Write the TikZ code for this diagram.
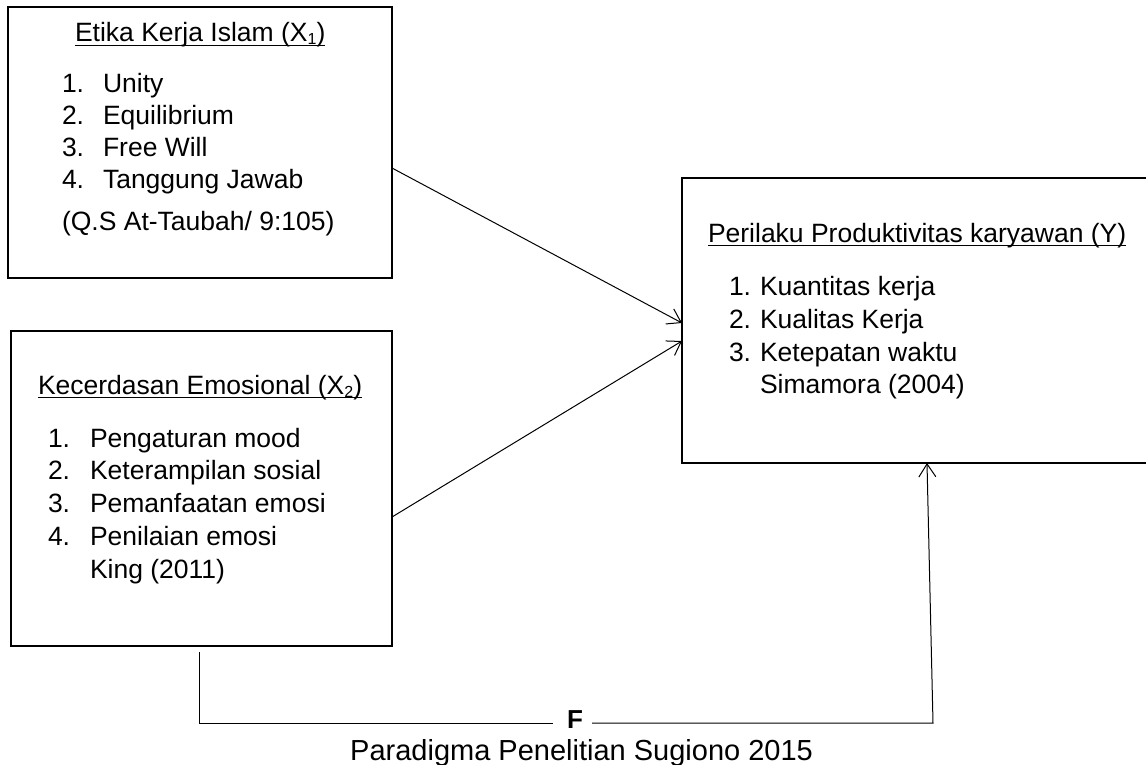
\documentclass[tikz,border=0pt]{standalone}
\usepackage{fontspec}
\setmainfont{Liberation Sans}
\usetikzlibrary{arrows.meta,calc}
\newcommand{\subnum}[1]{\raisebox{-3pt}{\fontsize{16}{16}\selectfont #1}}
\tikzset{
  box/.style={draw, line width=2.3pt, anchor=north west, inner sep=0, outer sep=0},
  txt/.style={inner sep=0, outer sep=0, anchor=base west, font=\fontsize{26.5}{30}\selectfont},
  conn/.style={line width=1pt},
  arr/.style={conn, -{Straight Barb[length=13pt,width=17pt]}},
  ul/.style={line width=1.3pt}
}
\begin{document}
\begin{tikzpicture}[x=1pt,y=-1pt]
\useasboundingbox[fill=white] (0,0) rectangle (1146,765);
% boxes
\node[box, minimum width=384pt, minimum height=271pt] (x1) at (8,7) {};
\node[box, minimum width=381pt, minimum height=315pt] (x2) at (11,331) {};
\node[box, minimum width=470pt, minimum height=285pt] (y) at (682,178) {};
% X1 texts
\node[txt] (x1t) at (75,42) {Etika Kerja Islam (X\subnum{1})};
\draw[ul] ($(x1t.base west)+(0,3.5)$) -- ($(x1t.base east)+(0,3.5)$);
\node[txt] (x1n1) at (62,93) {1.};  \node[txt] (x1i1) at (103,93) {Unity};
\node[txt] (x1n2) at (62,125) {2.}; \node[txt] (x1i2) at (103,125) {Equilibrium};
\node[txt] (x1n3) at (62,157) {3.}; \node[txt] (x1i3) at (103,157) {Free Will};
\node[txt] (x1n4) at (62,188) {4.}; \node[txt] (x1i4) at (103,188) {Tanggung Jawab};
\node[txt] (x1q) at (62,230) {(Q.S At-Taubah/ 9:105)};
% X2 texts
\node[txt] (x2t) at (38,394) {Kecerdasan Emosional (X\subnum{2})};
\draw[ul] ($(x2t.base west)+(0,3.5)$) -- ($(x2t.base east)+(0,3.5)$);
\node[txt] (x2n1) at (48,447) {1.}; \node[txt] (x2i1) at (90,447) {Pengaturan mood};
\node[txt] (x2n2) at (48,479) {2.}; \node[txt] (x2i2) at (90,479) {Keterampilan sosial};
\node[txt] (x2n3) at (48,512) {3.}; \node[txt] (x2i3) at (90,512) {Pemanfaatan emosi};
\node[txt] (x2n4) at (48,545) {4.}; \node[txt] (x2i4) at (90,545) {Penilaian emosi};
\node[txt] (x2k) at (90,578) {King (2011)};
% Y texts
\node[txt] (yt) at (708,242) {Perilaku Produktivitas karyawan (Y)};
\draw[ul] ($(yt.base west)+(0,3.5)$) -- ($(yt.base east)+(0,3.5)$);
\node[txt] (yn1) at (729,295) {1.}; \node[txt] (yi1) at (760,295) {Kuantitas kerja};
\node[txt] (yn2) at (729,328) {2.}; \node[txt] (yi2) at (760,328) {Kualitas Kerja};
\node[txt] (yn3) at (729,361) {3.}; \node[txt] (yi3) at (760,361) {Ketepatan waktu};
\node[txt] (ys) at (760,393) {Simamora (2004)};
% arrows into Y
\draw[arr] ($(x1.east)+(0,25.5)$) -- ($(y.west)+(0,2.5)$);
\draw[arr] ($(x2.east)+(0,28.5)$) -- ($(y.west)+(0,20.5)$);
% F connector
\coordinate (fs) at (199,652);
\coordinate (fc1) at (199,723);
\coordinate (fl) at (553,723);
\coordinate (fr) at (592,723);
\coordinate (fc2) at (933,723);
\node[inner sep=0, anchor=base, font=\fontsize{26}{30}\selectfont\bfseries] (f) at (575,728) {F};
\draw[conn] (fs) -- (fc1) -- (fl);
\draw[arr] (fr) -- (fc2) -- ($(y.south west)+(245,0)$);
% caption
\node[inner sep=0, anchor=base west, font=\fontsize{29}{32}\selectfont] (cap) at (350,760) {Paradigma Penelitian Sugiono 2015};
\end{tikzpicture}
\end{document}
